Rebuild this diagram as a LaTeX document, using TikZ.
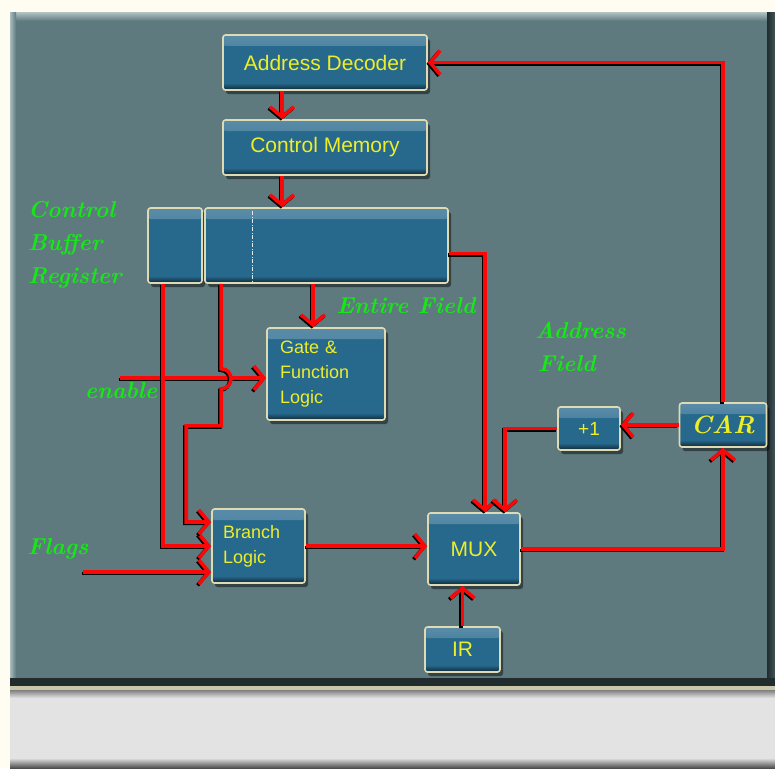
\documentclass[tikz,border=0pt]{standalone}
\usepackage{fontspec}
\setsansfont{Liberation Sans}
\usepackage{tikz}
\usetikzlibrary{arrows.meta,shadows}

\definecolor{paper}{RGB}{255,253,242}
\definecolor{panel}{RGB}{94,122,127}
\definecolor{panelhi}{RGB}{170,188,190}
\definecolor{paneldk}{RGB}{32,44,46}
\definecolor{strip}{RGB}{227,227,227}
\definecolor{boxblue}{RGB}{39,105,140}
\definecolor{boxhi}{RGB}{90,140,168}
\definecolor{boxdk}{RGB}{14,38,52}
\definecolor{glow}{RGB}{222,218,180}
\definecolor{boxtext}{RGB}{238,238,40}
\definecolor{wirered}{RGB}{250,8,8}
\definecolor{lblgreen}{RGB}{22,232,22}

\begin{document}
\begin{tikzpicture}[x=1pt,y=-1pt,
  blk/.style 2 args={draw=glow,line width=1.6pt,rounded corners=2.5pt,fill=boxblue,
    minimum width=#1pt,minimum height=#2pt,inner sep=0pt,text=boxtext,
    font=\sffamily\fontsize{21}{25}\selectfont,
    drop shadow={shadow xshift=3pt,shadow yshift=-4pt,opacity=0.45,fill=black},
    path picture={
      \shade[top color=boxhi,bottom color=boxblue] (path picture bounding box.north west)
        rectangle ([yshift=-11pt]path picture bounding box.north east);
      \shade[top color=boxblue,bottom color=boxdk] ([yshift=7pt]path picture bounding box.south west)
        rectangle (path picture bounding box.south east);
    }},
  wire/.style={draw=wirered,line width=3.6pt,-{Straight Barb[length=10pt,width=24pt]},
    preaction={draw=black,line width=3.6pt,transform canvas={shift={(-1.3pt,-1.3pt)}}}},
  lbl/.style={text=lblgreen,font=\bfseries\itshape\fontsize{23}{33}\selectfont,align=left,inner sep=0pt}]

% frame and panel
\fill[paper] (0,0) rectangle (775,768);
\fill[panel] (10,13) rectangle (767,682);
\shade[top color=panelhi,bottom color=panel] (10,13) rectangle (767,21);
\shade[left color=panelhi,right color=panel] (10,13) rectangle (16,682);
\shade[left color=paneldk,right color=panel!70!black] (767,13) rectangle (775,686);
\fill[paneldk] (10,678) rectangle (775,686);
\fill[glow!80!gray] (10,686) rectangle (775,690);
\fill[strip] (10,690) rectangle (775,768);
\shade[top color=gray,bottom color=strip] (10,690) rectangle (775,698);
\shade[top color=strip,bottom color=black!70] (10,758) rectangle (775,768);

% blocks
\node[blk={204}{55}] (dec) at (325,62.5) {Address Decoder};
\node[blk={204}{55}] (mem) at (325,147.5) {Control Memory};
\node[blk={54}{75}] (cbrA) at (175,245.5) {};
\node[blk={243}{75}] (cbrB) at (326.5,245.5) {};
\draw[white!85!boxblue,line width=0.6pt,dash pattern=on 4pt off 1.5pt on 1pt off 1.5pt]
  (252,211) -- (252,281);
\node[blk={118}{92},text width=92pt,align=left,font=\sffamily\fontsize{18}{25}\selectfont] (gate) at (326,374) {Gate \&\\Function\\Logic};
\node[blk={93}{74},text width=71pt,align=left,font=\sffamily\fontsize{18}{25}\selectfont] (branch) at (258.5,546) {Branch\\Logic};
\node[blk={92}{72},font=\sffamily\fontsize{21}{24}\selectfont] (mux) at (474,549) {MUX};
\node[blk={75}{45},font=\sffamily\fontsize{21}{24}\selectfont] (ir) at (462.5,649.5) {IR};
\node[blk={62}{43},font=\sffamily\fontsize{19}{24}\selectfont] (inc) at (589,428.5) {+1};
\node[blk={87}{44},font=\rmfamily\bfseries\itshape\fontsize{25}{26}\selectfont] (car) at (723,425) {CAR};

% labels
\node[lbl,anchor=west] (cbrLbl) at (28,245) {Control\\Buffer\\Register};
\node[lbl] (efLbl) at (406,306) {Entire Field};
\node[lbl,anchor=west] (afLbl) at (535,347) {Address\\\hspace*{3pt}Field};
\node[lbl] (enLbl) at (121,391) {enable};
\node[lbl] (flLbl) at (58,549) {Flags};

% free ends
\coordinate (enIn) at (120,378);
\coordinate (flIn) at (83,572);

% wires
\draw[wire] (car.north) |- (dec.east);
\draw[wire] ([xshift=-43pt]dec.south) -- ([xshift=-43pt]mem.north);
\draw[wire] ([xshift=-43pt]mem.south) -- ([xshift=-43pt]mem.south |- cbrB.north);
\draw[wire] ([xshift=-13pt]gate.north |- cbrB.south) -- ([xshift=-13pt]gate.north);
\draw[wire] ([yshift=-8pt]cbrB.east) -| ([xshift=11pt]mux.north);
\draw[wire] (enIn) -- (enIn -| gate.west);
\draw[wire] ([xshift=-12pt]cbrA.south) |- (branch.west);
\draw[wire] ([xshift=17pt]cbrB.south west) -- ++(0,85)
  .. controls +(13,0) and +(13,0) .. ++(0,20) -- ++(0,37) -- ++(-35,0)
  |- ([yshift=24pt]branch.west);
\draw[wire] (flIn) -- (flIn -| branch.west);
\draw[wire] (branch.east) -- (branch.east -| mux.west);
\draw[wire] (ir) -- (ir |- mux.south);
\draw[wire] (mux.east) -| (car.south);
\draw[wire] (car.west) -- (car.west -| inc.east);
\draw[wire] (inc.west) -| ([xshift=31pt]mux.north);
\end{tikzpicture}
\end{document}
